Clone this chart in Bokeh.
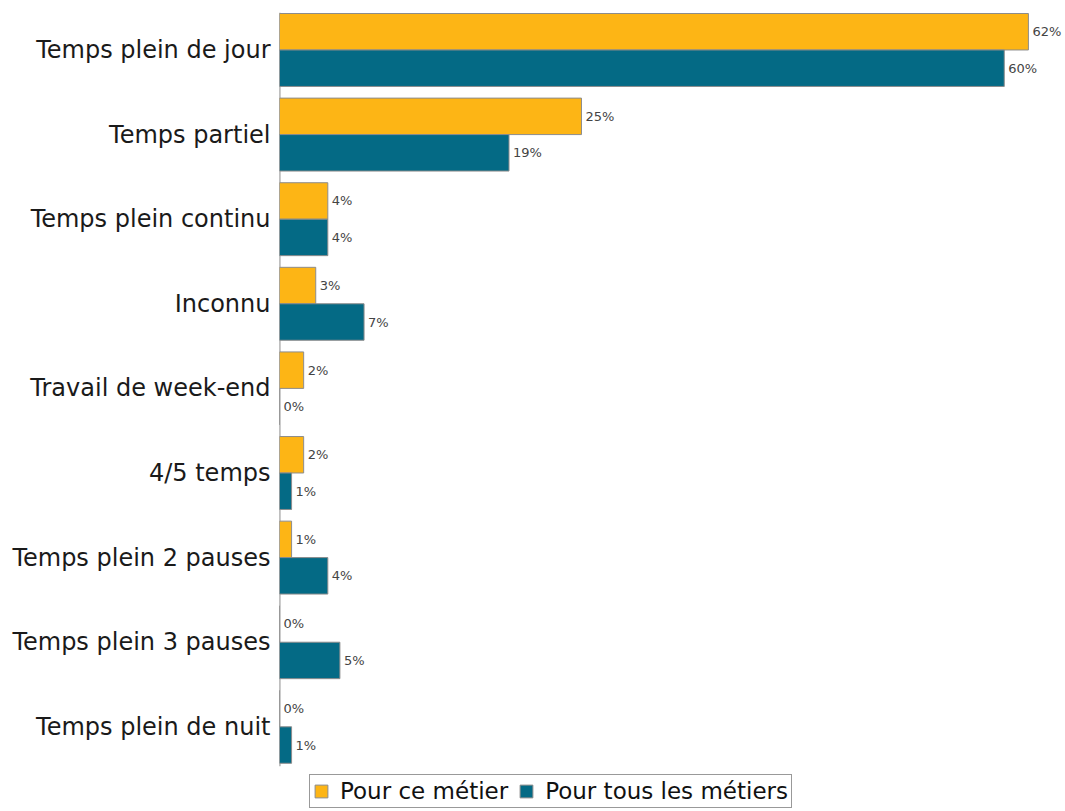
from bokeh.plotting import figure
from bokeh.models import Range1d, FixedTicker, Legend, LegendItem, ColumnDataSource
from bokeh.embed import file_html
from bokeh.resources import INLINE
from bokeh.core.properties import value

categories = ["Temps plein de jour", "Temps partiel", "Temps plein continu", "Inconnu",
              "Travail de week-end", "4/5 temps", "Temps plein 2 pauses",
              "Temps plein 3 pauses", "Temps plein de nuit"]
pour_ce_metier = [62, 25, 4, 3, 2, 2, 1, 0, 0]
pour_tous_metiers = [60, 19, 4, 7, 0, 1, 4, 5, 1]
series_names = ["Pour ce métier", "Pour tous les métiers"]
colors = ["#FDB515", "#046A85"]

FONT = "DejaVu Sans"
BH = 0.431  # bar thickness in category units
Y_TOP, Y_AXIS_END, Y_BOTTOM = -0.443, 8.466, 9.001

idx = list(range(len(categories)))
src_a = ColumnDataSource(dict(
    y=[i - BH / 2 for i in idx], v=pour_ce_metier,
    lab=[f"{v}%" for v in pour_ce_metier]))
src_b = ColumnDataSource(dict(
    y=[i + BH / 2 for i in idx], v=pour_tous_metiers,
    lab=[f"{v}%" for v in pour_tous_metiers]))

p = figure(width=1065, height=811, output_backend="svg", toolbar_location=None,
           x_range=Range1d(0, 65.07), y_range=Range1d(Y_BOTTOM, Y_TOP),
           x_axis_location=None,
           min_border_left=279, min_border_right=0, min_border_top=12,
           min_border_bottom=0)
p.grid.visible = False
p.outline_line_color = None
p.background_fill_color = "white"

# axis line (ends above the legend, as in the reference)
p.segment(x0=[0], y0=[Y_TOP], x1=[0], y1=[Y_AXIS_END],
          line_color="#808080", line_width=1.8)

ra = p.hbar(y="y", right="v", left=0, height=BH, source=src_a,
            fill_color=colors[0], line_color="#8c8c8c", line_width=1)
rb = p.hbar(y="y", right="v", left=0, height=BH, source=src_b,
            fill_color=colors[1], line_color="#8c8c8c", line_width=1)

for s in (src_a, src_b):
    p.text(x="v", y="y", text="lab", source=s, x_offset=4,
           text_baseline="middle", text_align="left",
           text_font=value(FONT), text_font_size="13px", text_color="#444444")

yax = p.yaxis[0]
yax.ticker = FixedTicker(ticks=idx)
yax.major_label_overrides = {i: c for i, c in zip(idx, categories)}
yax.major_label_text_font = FONT
yax.major_label_text_font_size = "24px"
yax.major_label_text_color = "#1a1a1a"
yax.major_label_standoff = 9
yax.major_tick_out = 0
yax.major_tick_in = 0
yax.major_tick_line_color = None
yax.minor_tick_line_color = None
yax.axis_line_color = None

legend = Legend(items=[LegendItem(label=series_names[0], renderers=[ra]),
                       LegendItem(label=series_names[1], renderers=[rb])],
                orientation="horizontal", location=(30, 3), margin=0,
                padding=3, spacing=10, label_standoff=11,
                glyph_width=16, glyph_height=16,
                label_text_font=FONT, label_text_font_size="23px",
                label_text_color="#111111",
                border_line_color="#333333", border_line_width=1.5,
                background_fill_color="white", background_fill_alpha=1.0)
p.add_layout(legend, "center")

open("out.html", "w").write(file_html(p, INLINE))
